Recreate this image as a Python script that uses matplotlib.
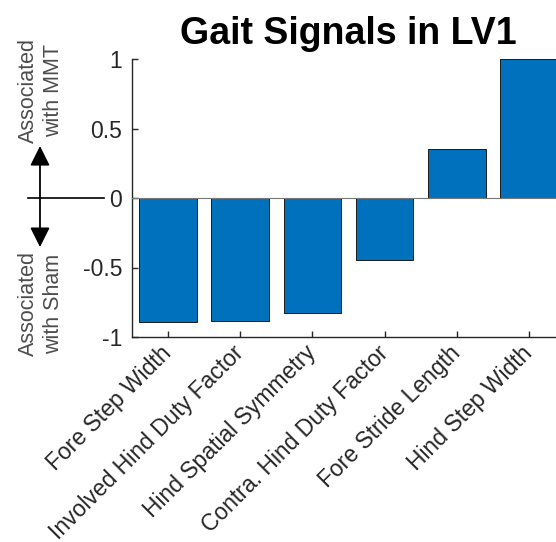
import matplotlib
matplotlib.use("Agg")
import matplotlib.pyplot as plt
import numpy as np

# bar loadings
signals = [
    "Fore Step Width",
    "Involved Hind Duty Factor",
    "Hind Spatial Symmetry",
    "Contra. Hind Duty Factor",
    "Fore Stride Length",
    "Hind Step Width",
]
loadings = [-0.894, -0.883, -0.827, -0.448, 0.355, 1.0]
y_ticks = [-1, -0.5, 0, 0.5, 1]
y_tick_labels = ["-1", "-0.5", "0", "0.5", "1"]

plt.rcParams["font.family"] = ["Liberation Sans", "DejaVu Sans"]
text_col = "#262626"

fig = plt.figure(figsize=(5.56, 5.42), dpi=100)
# axes run slightly past the right edge, as in the cropped original
ax = fig.add_axes([132 / 556, 205 / 542, 433 / 556, 278 / 542])

x = np.arange(1, len(signals) + 1)
ax.bar(x, loadings, width=0.8, color="#0072BD", edgecolor="#1a1a1a",
       linewidth=0.7, zorder=2)
ax.axhline(0, color="#777777", linewidth=0.8, zorder=3)

ax.set_xlim(0.5, len(signals) + 0.5)
ax.set_ylim(-1, 1)
ax.set_yticks(y_ticks)
ax.set_yticklabels(y_tick_labels)
ax.set_xticks(x)
ax.set_xticklabels(signals, rotation=45, ha="right", va="center",
                   rotation_mode="anchor")

ax.tick_params(direction="in", length=4, width=1, colors=text_col,
               labelsize=16.5)
ax.tick_params(axis="y", pad=7)
ax.tick_params(axis="x", pad=9)
for side in ["top", "right"]:
    ax.spines[side].set_visible(False)
for side in ["left", "bottom"]:
    ax.spines[side].set_color(text_col)
    ax.spines[side].set_linewidth(1.0)

ax.set_title("Gait Signals in LV1", fontsize=27, fontweight="bold",
             color="black", pad=11)

# direction key on the left: axes-fraction x, data y
tr = ax.get_yaxis_transform()
ax.plot([-0.240, -0.064], [0, 0], transform=tr, color="black",
        linewidth=1.2, clip_on=False)
ax.annotate("", xy=(-0.2125, 0.374), xytext=(-0.2125, -0.353),
            xycoords=tr, textcoords=tr,
            arrowprops=dict(arrowstyle="<|-|>", color="black", lw=1.3,
                            mutation_scale=30, shrinkA=0, shrinkB=0),
            annotation_clip=False)
ax.text(-0.210, 0.77, "Associated\nwith MMT", transform=tr, rotation=90,
        ha="center", va="center", fontsize=15.5, color="#4d4d4d",
        linespacing=1.3, clip_on=False)
ax.text(-0.210, -0.76, "Associated\nwith Sham", transform=tr, rotation=90,
        ha="center", va="center", fontsize=15.5, color="#4d4d4d",
        linespacing=1.3, clip_on=False)

fig.savefig("out.png", dpi=100)
